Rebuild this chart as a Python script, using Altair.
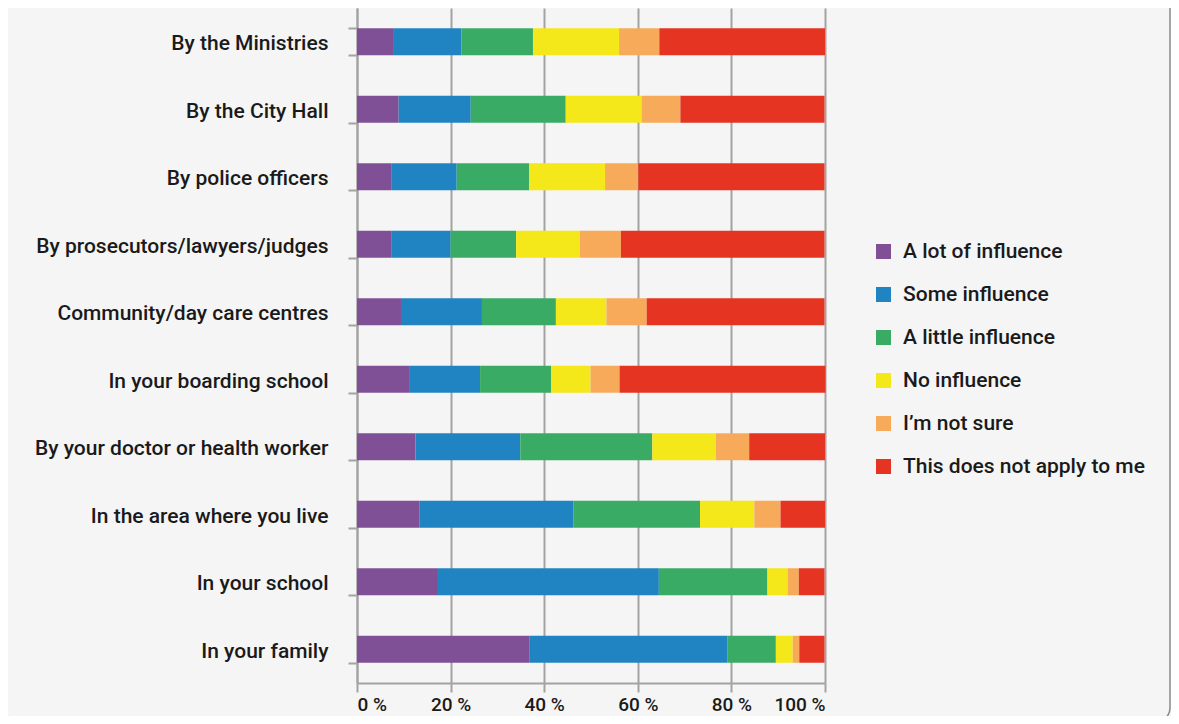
import altair as alt
import pandas as pd

categories = [
    "By the Ministries",
    "By the City Hall",
    "By police officers",
    "By prosecutors/lawyers/judges",
    "Community/day care centres",
    "In your boarding school",
    "By your doctor or health worker",
    "In the area where you live",
    "In your school",
    "In your family",
]
responses = [
    "A lot of influence",
    "Some influence",
    "A little influence",
    "No influence",
    "I\u2019m not sure",
    "This does not apply to me",
]
colors = ["#805096", "#2084c2", "#3aab65", "#f4e71a", "#f7ab5a", "#e53522"]

a_lot = [7.7, 8.9, 7.3, 7.3, 9.4, 11.3, 12.5, 13.4, 17.3, 36.8]
some = [14.6, 15.4, 14.0, 12.7, 17.3, 15.0, 22.4, 32.8, 47.2, 42.3]
a_little = [15.3, 20.3, 15.5, 14.0, 15.8, 15.2, 28.2, 27.1, 23.2, 10.4]
no_infl = [18.4, 16.2, 16.2, 13.6, 10.8, 8.4, 13.6, 11.6, 4.3, 3.6]
not_sure = [8.6, 8.3, 7.1, 8.8, 8.6, 6.2, 7.1, 5.6, 2.4, 1.4]
not_apply = [35.4, 30.8, 39.8, 43.5, 38.0, 44.0, 16.2, 9.5, 5.5, 5.4]

series = [a_lot, some, a_little, no_infl, not_sure, not_apply]
rows = []
for ri, (resp, vals) in enumerate(zip(responses, series)):
    for cat, v in zip(categories, vals):
        rows.append({"category": cat, "response": resp, "value": v, "order": ri})
df = pd.DataFrame(rows)

FONT = "Roboto"
TXT = "#1a1a1a"
GRID = "#a3a3a3"

frame = alt.Chart(pd.DataFrame({"k": [0]})).mark_rect(
    fill=None, stroke="#8a8a8a", strokeWidth=1.5, cornerRadius=14
).encode(
    x=alt.value(-352), x2=alt.value(813), y=alt.value(-40), y2=alt.value(714)
)

bars = alt.Chart(df).mark_bar().encode(
    y=alt.Y(
        "category:N",
        sort=categories,
        title=None,
        scale=alt.Scale(paddingInner=0.6, paddingOuter=0.3),
        axis=alt.Axis(
            tickBand="extent",
            tickSize=9,
            tickColor=GRID,
            tickWidth=2,
            domainColor=GRID,
            domainWidth=2,
            labelPadding=20,
            labelOffset=2,
            labelFont=FONT,
            labelFontSize=21,
            labelFontWeight=500,
            labelColor=TXT,
            labelLimit=400,
            grid=False,
        ),
    ),
    x=alt.X(
        "value:Q",
        stack="zero",
        title=None,
        scale=alt.Scale(domain=[0, 100], nice=False),
        axis=alt.Axis(
            values=[0, 20, 40, 60, 80, 100],
            labelExpr="datum.value + ' %'",
            tickSize=9,
            tickColor=GRID,
            tickWidth=2,
            domainColor=GRID,
            domainWidth=2,
            grid=True,
            gridColor=GRID,
            gridWidth=2,
            labelPadding=3,
            labelFont=FONT,
            labelFontSize=19,
            labelFontWeight=500,
            labelColor=TXT,
        ),
    ),
    color=alt.Color(
        "response:N",
        sort=responses,
        scale=alt.Scale(domain=responses, range=colors),
        legend=alt.Legend(
            title=None,
            orient="none",
            legendX=516,
            legendY=233,
            symbolType="square",
            symbolSize=225,
            symbolStrokeWidth=0,
            symbolOpacity=1,
            labelFont=FONT,
            labelFontSize=21,
            labelFontWeight=500,
            labelColor=TXT,
            labelOffset=9,
            rowPadding=21,
            labelLimit=400,
        ),
    ),
    order=alt.Order("order:Q", sort="ascending"),
)

chart = alt.layer(frame, bars).properties(
    width=468,
    height=675,
    autosize=alt.AutoSizeParams(type="none"),
    padding={"left": 349, "top": 0, "right": 346, "bottom": 33},
    background="#f5f5f5",
).configure_view(strokeWidth=0)

chart.save("out.html", embed_options={"renderer": "svg", "actions": False})
